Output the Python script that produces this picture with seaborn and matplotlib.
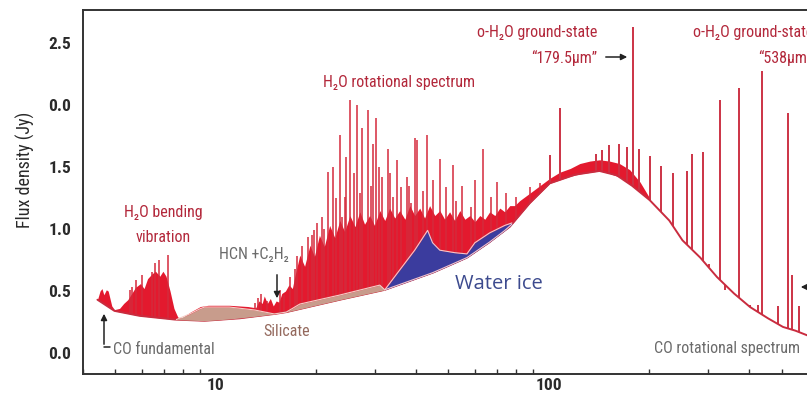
import numpy as np
import matplotlib
matplotlib.use('Agg')
import matplotlib.pyplot as plt
import seaborn as sns
from matplotlib.ticker import NullFormatter

# ── datos ────────────────────────────────────────────────────────────────────
# continuo (borde inferior del espectro), micras / Jy
cont_x = [4.42, 4.97, 5.91, 7.53, 9.27, 11.8, 15.0, 16.3, 23.6, 32.2,
          45.0, 56.8, 66.0, 76.4, 87.7, 100.7, 120, 142, 160, 178,
          201, 230, 252, 285, 320, 360, 402, 455, 505, 550, 600]
cont_y = [0.43, 0.34, 0.30, 0.27, 0.26, 0.28, 0.315, 0.33, 0.43, 0.51,
          0.65, 0.77, 0.89, 1.02, 1.21, 1.37, 1.44, 1.47, 1.435, 1.35,
          1.234, 1.07, 0.91, 0.77, 0.613, 0.48, 0.371, 0.28, 0.21, 0.18, 0.14]

# borde superior de la emisión densa (bosque de líneas)
env_x = [4.42, 4.50, 4.56, 4.62, 4.70, 4.76, 4.88, 4.97, 5.15, 5.30,
         5.45, 5.60, 5.75, 5.95, 6.10, 6.25, 6.45, 6.60, 6.80, 6.95,
         7.10, 7.30, 7.50, 7.70, 7.90, 8.40, 9.00, 9.50, 11.0, 12.5,
         13.2, 13.5, 13.8, 14.0, 14.3, 14.6, 14.9, 15.2, 15.5, 15.8,
         16.2, 16.6, 17.0, 17.3, 17.9, 18.5, 19.2, 19.8, 20.5, 21.2,
         22.0, 22.8, 23.6, 24.4, 25.3, 26.2, 27.1, 28.0, 29.0, 30.0,
         31.1, 32.2, 33.3, 34.5, 35.7, 37.0, 38.3, 39.6, 41.0, 42.4,
         43.9, 45.5, 47.1, 48.7, 50.4, 52.2, 54.1, 56.0, 58.0, 60.0,
         62.1, 64.3, 66.5, 68.9, 71.3, 73.8, 76.4, 79.0, 81.8, 87.7,
         94.0, 100.7, 108, 116, 124, 133, 142, 152, 163, 175,
         188, 201]
env_y = [0.43, 0.50, 0.52, 0.47, 0.51, 0.50, 0.38, 0.35, 0.36, 0.40,
         0.43, 0.48, 0.53, 0.56, 0.52, 0.60, 0.64, 0.66, 0.62, 0.66,
         0.62, 0.50, 0.36, 0.29, 0.28, 0.33, 0.375, 0.385, 0.385, 0.375,
         0.365, 0.42, 0.40, 0.46, 0.40, 0.44, 0.38, 0.42, 0.41, 0.48,
         0.50, 0.55, 0.52, 0.62, 0.79, 0.70, 0.87, 0.78, 0.95, 0.86,
         1.03, 0.93, 1.07, 0.98, 1.11, 1.02, 1.14, 1.04, 1.11, 1.03,
         1.15, 1.07, 1.17, 1.09, 1.15, 1.08, 1.19, 1.11, 1.17, 1.09,
         1.19, 1.11, 1.15, 1.08, 1.14, 1.07, 1.15, 1.08, 1.11, 1.06,
         1.11, 1.08, 1.14, 1.11, 1.17, 1.14, 1.19, 1.19, 1.23, 1.29,
         1.35, 1.41, 1.46, 1.49, 1.53, 1.55, 1.56, 1.55, 1.53, 1.48,
         1.38, 1.25]

# líneas de emisión individuales
bend_x = [5.52, 5.60, 5.75, 6.00, 6.45, 6.60, 6.75, 7.18]
bend_y = [0.51, 0.53, 0.59, 0.63, 0.65, 0.73, 0.75, 0.79]

hcn_x = [13.1, 13.4, 13.7, 14.3, 15.6, 16.1, 16.7, 17.3]
hcn_y = [0.40, 0.44, 0.48, 0.42, 0.51, 0.47, 0.61, 0.68]

rot_x = [17.6, 18.2, 18.9, 19.5, 19.8, 20.2, 20.9, 21.2, 21.7, 22.5,
         23.0, 23.6, 23.9, 24.4, 24.7, 25.3, 26.0, 26.5, 27.1, 27.6,
         28.6, 29.3, 29.6, 30.4, 31.0, 31.5, 32.9, 33.5, 34.1, 35.0,
         36.1, 37.5, 38.0, 38.7, 39.6, 40.2, 42.0, 43.0, 45.0, 47.1,
         49.3, 51.5, 52.8, 55.0, 58.6, 60.0, 63.4, 67.3, 70.0, 74.6,
         80.0, 87.7, 94.0]
rot_y = [0.78, 0.86, 0.94, 0.95, 0.99, 1.05, 1.10, 1.00, 1.46, 1.50,
         1.25, 1.76, 1.10, 1.26, 1.58, 2.04, 1.45, 2.00, 1.29, 1.82,
         1.96, 1.35, 1.69, 1.90, 1.50, 1.42, 1.65, 1.45, 1.26, 1.56,
         1.34, 1.42, 1.35, 1.21, 1.74, 1.72, 1.31, 1.76, 1.40, 1.57,
         1.34, 1.52, 1.23, 1.35, 1.18, 1.40, 1.65, 1.26, 1.38, 1.29,
         1.26, 1.34, 1.37]

far_x = [100.7, 108, 139, 145, 152, 163, 172, 179.5, 186, 201,
         218, 236, 260, 269, 290, 302, 327, 338, 372, 402,
         425, 437, 488, 522, 538, 563]
far_y = [1.60, 1.98, 1.61, 1.64, 1.68, 1.69, 1.66, 2.63, 1.65, 1.59,
         1.51, 1.45, 1.47, 1.61, 1.62, 0.72, 2.04, 0.51, 2.14, 0.39,
         0.39, 2.28, 0.38, 1.94, 0.63, 0.38]

# rasgos sólidos: silicato y hielo de agua (borde superior)
sil_x = [7.63, 8.36, 8.95, 9.27, 11.0, 13.1, 14.5, 15.0, 16.3, 17.9,
         23.6, 31.1, 32.2]
sil_top = [0.27, 0.315, 0.355, 0.371, 0.371, 0.347, 0.323, 0.315, 0.33, 0.395,
           0.468, 0.548, 0.51]
ice_x = [32.2, 35.7, 39.6, 43.3, 44.8, 47.1, 52.2, 56.8, 60.0, 66.5,
         73.8, 77.5]
ice_top = [0.51, 0.67, 0.83, 0.99, 0.89, 0.83, 0.81, 0.80, 0.89, 0.97,
           1.03, 1.05]

y_ticks = [0.0, 0.5, 1.0, 1.5, 2.0, 2.5]
y_ticklabels = ['0.0', '0.5', '1.0', '1.5', '0.0', '2.5']
x_ticks = [10, 100]
x_ticklabels = ['10', '100']

# ── estilo ───────────────────────────────────────────────────────────────────
RED = '#e3192e'
LINE_RED = '#d42a3c'
DARK_RED = '#b3283b'
GREY = '#6b6b6b'
NARROW = ['Roboto Condensed', 'DejaVu Sans']
FS = 11.5

sns.set_theme(style='white')
plt.rcParams['font.family'] = NARROW
plt.rcParams['font.stretch'] = 'condensed'


def base_at(xs):
    return np.interp(np.log(xs), np.log(cont_x), cont_y)


def fpx(x, y):
    """píxeles de la imagen -> fracción de figura"""
    return (x / 807, 1 - y / 400)


fig = plt.figure(figsize=(8.07, 4.0), dpi=100)
ax = fig.add_axes([83 / 807, 26 / 400, 1 - 83 / 807, 364 / 400])
ax.set_xscale('log')

# bosque de emisión denso
ex = np.array(env_x)
ax.fill_between(ex, base_at(ex), np.maximum(env_y, base_at(ex)),
                color=RED, lw=0, zorder=2)

# líneas individuales
for xs, ys, lw, col in [(bend_x, bend_y, 1.1, LINE_RED),
                        (hcn_x, hcn_y, 1.1, LINE_RED),
                        (rot_x, rot_y, 1.1, LINE_RED),
                        (far_x, far_y, 1.4, '#cc3345')]:
    xs = np.array(xs)
    ax.vlines(xs, base_at(xs), ys, color=col, lw=lw, zorder=2.5)

# continuo
sns.lineplot(x=cont_x, y=cont_y, ax=ax, color='#c92c3f', lw=1.4,
             zorder=2.8, sort=False)

# silicato y hielo
sx = np.array(sil_x)
ax.fill_between(sx, base_at(sx), sil_top, color='#c89c8c', lw=0, zorder=3)
ax.plot(sx, sil_top, color='#f5cdc6', lw=0.8, zorder=3.2)
ix = np.array(ice_x)
ax.fill_between(ix, base_at(ix), ice_top, color='#3b3c9e', lw=0, zorder=3)
ax.plot(ix, ice_top, color='#f3c6cc', lw=0.8, zorder=3.2)
ax.plot(ix, base_at(ix), color='#f3c6cc', lw=0.8, zorder=3.2)

# ejes
ax.set_xlim(4, 596)
ax.set_ylim(-0.17, 2.77)
ax.set_xticks(x_ticks)
ax.set_xticklabels(x_ticklabels)
ax.xaxis.set_minor_formatter(NullFormatter())
ax.set_yticks(y_ticks)
ax.set_yticklabels(y_ticklabels)
ax.tick_params(axis='x', which='major', direction='in', length=6, width=1.1,
               color='#333333', labelsize=12.5, labelcolor='#2a2a2a', pad=3)
ax.tick_params(axis='x', which='minor', direction='in', length=3.5, width=1.0,
               color='#333333', bottom=True)
ax.tick_params(axis='y', direction='inout', length=9, width=1.1,
               color='#333333', labelsize=12.5, labelcolor='#2a2a2a', pad=4)
for lab in ax.get_xticklabels() + ax.get_yticklabels():
    lab.set_fontweight('bold')
for side in ['left', 'bottom', 'top']:
    ax.spines[side].set_color('#333333')
    ax.spines[side].set_linewidth(1.4)
ax.spines['right'].set_visible(False)
ax.set_ylabel('Flux density (Jy)', fontsize=13, color='#2a2a2a')
ax.yaxis.set_label_coords(-0.066, 0.56)
ax.set_xlabel('')

# anotaciones
txt = dict(ha='center', va='center', family=NARROW)
fig.text(*fpx(163, 213), 'H\u2082O bending', color=DARK_RED, fontsize=FS, **txt)
fig.text(*fpx(163, 237), 'vibration', color=DARK_RED, fontsize=FS, **txt)
fig.text(*fpx(254, 255), 'HCN +C\u2082H\u2082', color=GREY, fontsize=FS, **txt)
fig.text(*fpx(287, 332), 'Silicate', color='#94695d', fontsize=FS, **txt)
fig.text(*fpx(113, 350), 'CO fundamental', color=GREY, fontsize=FS,
         ha='left', va='center', family=NARROW)
fig.text(*fpx(399, 83), 'H\u2082O rotational spectrum', color=DARK_RED, fontsize=FS, **txt)
fig.text(*fpx(537, 32), 'o-H\u2082O ground-state', color=DARK_RED, fontsize=FS, **txt)
fig.text(*fpx(597, 58), '\u201c179.5\u03bcm\u201d', color=DARK_RED, fontsize=FS,
         ha='right', va='center', family=NARROW)
fig.text(*fpx(693, 32), 'o-H\u2082O ground-state', color=DARK_RED, fontsize=FS,
         ha='left', va='center', family=NARROW)
fig.text(*fpx(758, 58), '\u201c538\u03bcm\u201d', color=DARK_RED, fontsize=FS,
         ha='left', va='center', family=NARROW)
fig.text(*fpx(800, 348), 'CO rotational spectrum', color=GREY, fontsize=FS,
         ha='right', va='center', family=NARROW)
fig.text(*fpx(499, 284), 'Water ice', color='#3c4a8e', fontsize=14.5,
         ha='center', va='center', family=['Open Sans', 'DejaVu Sans'],
         stretch='normal')

arrow = dict(arrowstyle='-|>', color='#222222', lw=1.1, mutation_scale=9)
ax.annotate('', xy=fpx(630, 57), xytext=fpx(603, 57), xycoords='figure fraction',
            textcoords='figure fraction', arrowprops=arrow)
ax.annotate('', xy=fpx(277, 301), xytext=fpx(277, 272), xycoords='figure fraction',
            textcoords='figure fraction', arrowprops=arrow)
ax.annotate('', xy=fpx(798, 287), xytext=fpx(830, 287), xycoords='figure fraction',
            textcoords='figure fraction', arrowprops=arrow, annotation_clip=False)
ax.annotate('', xy=fpx(104, 311), xytext=fpx(104, 347), xycoords='figure fraction',
            textcoords='figure fraction', arrowprops=arrow)
fig.add_artist(plt.Line2D([104 / 807, 110 / 807], [1 - 347 / 400, 1 - 347 / 400],
                          color='#222222', lw=1.1))

fig.savefig('out.png', dpi=100)
